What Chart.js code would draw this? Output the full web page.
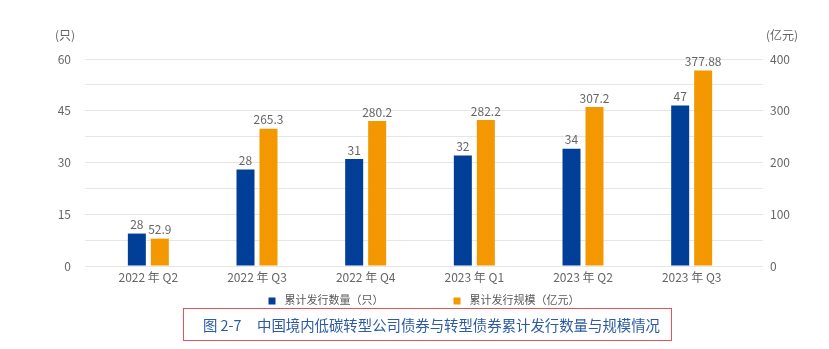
<!DOCTYPE html>
<html>
<head>
<meta charset="utf-8">
<script src="https://cdn.jsdelivr.net/npm/chart.js@4.4.1/dist/chart.umd.min.js"></script>
<style>
  html, body { margin: 0; padding: 0; background: #fff; }
  #wrap { position: relative; width: 829px; height: 349px; overflow: hidden; }
  #caption {
    position: absolute; left: 183px; top: 308px; width: 487px; height: 31px;
    border: 1.5px solid #e9525a; box-sizing: content-box;
    font-family: "Noto Sans CJK SC", sans-serif; font-size: 14.4px; color: #2c5aa5;
    line-height: 31px; white-space: nowrap;
  }
  #caption span.num { display: inline-block; width: 54px; margin-left: 19px; }
</style>
</head>
<body>
<div id="wrap">
  <canvas id="chart" width="829" height="349"></canvas>
  <div id="caption"><span class="num">图 2-7</span>中国境内低碳转型公司债券与转型债券累计发行数量与规模情况</div>
</div>
<script>
const categories = ["2022 年 Q2", "2022 年 Q3", "2022 年 Q4", "2023 年 Q1", "2023 年 Q2", "2023 年 Q3"];
const countValues = [9.4, 28, 31, 32, 34, 46.5]; // bar heights as drawn (只)
const countLabels = ["28", "28", "31", "32", "34", "47"];
const amountValues = [52.9, 265.3, 280.2, 282.2, 307.2, 377.88]; // 亿元
const amountLabels = ["52.9", "265.3", "280.2", "282.2", "307.2", "377.88"];
const seriesNames = ["累计发行数量（只）", "累计发行规模（亿元）"];
const unitLeft = "(只)";
const unitRight = "(亿元)";

const FONT = '"Noto Sans CJK SC", sans-serif';
const GRID = "#e6e6e6";
const TEXT = "#666666";

// value labels above the bars
const barLabels = {
  id: "barLabels",
  afterDatasetsDraw(chart) {
    const ctx = chart.ctx;
    const texts = [countLabels, amountLabels];
    ctx.save();
    ctx.font = "12px " + FONT;
    ctx.fillStyle = TEXT;
    ctx.textAlign = "center";
    ctx.textBaseline = "bottom";
    chart.data.datasets.forEach((ds, i) => {
      chart.getDatasetMeta(i).data.forEach((bar, j) => {
        ctx.fillText(texts[i][j], bar.x, bar.y - 3);
      });
    });
    ctx.restore();
  },
};

// units above the axes + legend under the chart
const extras = {
  id: "extras",
  afterDraw(chart) {
    const ctx = chart.ctx;
    const area = chart.chartArea;
    ctx.save();
    ctx.font = "12px " + FONT;
    ctx.fillStyle = TEXT;
    ctx.textAlign = "center";
    ctx.textBaseline = "middle";
    ctx.fillText(unitLeft, area.left - 29, 35);
    ctx.fillText(unitRight, area.right + 36, 35);

    // legend
    ctx.font = "11px " + FONT;
    ctx.textAlign = "left";
    const box = 7, gapText = 9, gapItem = 70, y = 301;
    const items = chart.data.datasets.map((ds) => ({
      label: ds.label,
      color: ds.backgroundColor,
      w: box + gapText + ctx.measureText(ds.label).width,
    }));
    const total = items.reduce((s, it) => s + it.w, 0) + gapItem * (items.length - 1);
    let x = (area.left + area.right) / 2 + 4 - total / 2;
    items.forEach((it) => {
      ctx.fillStyle = it.color;
      ctx.fillRect(x, y - box / 2, box, box);
      ctx.fillStyle = "#595959";
      ctx.fillText(it.label, x + box + gapText, y - 1);
      x += it.w + gapItem;
    });
    ctx.restore();
  },
};

new Chart(document.getElementById("chart").getContext("2d"), {
  type: "bar",
  data: {
    labels: categories,
    datasets: [
      {
        label: seriesNames[0],
        data: countValues,
        backgroundColor: "#003e97",
        yAxisID: "yLeft",
      },
      {
        label: seriesNames[1],
        data: amountValues,
        backgroundColor: "#f39800",
        yAxisID: "yRight",
      },
    ],
  },
  options: {
    responsive: false,
    animation: false,
    layout: { padding: { top: 59, bottom: 63, left: 0, right: 0 } },
    datasets: { bar: { categoryPercentage: 0.423, barPercentage: 0.783 } },
    plugins: {
      legend: { display: false },
      tooltip: { enabled: false },
    },
    scales: {
      x: {
        grid: { display: false, drawTicks: false },
        border: { display: false },
        ticks: { color: TEXT, font: { family: FONT, size: 12 }, padding: 4, maxRotation: 0 },
        afterFit: (scale) => { scale.height = 20; },
      },
      yLeft: {
        position: "left",
        min: 0,
        max: 60,
        grid: { color: GRID, lineWidth: 1, drawTicks: true, tickLength: 9 },
        border: { display: false },
        ticks: {
          stepSize: 7.5,
          padding: 14,
          color: TEXT,
          font: { family: FONT, size: 12 },
          callback: (v) => (v % 15 === 0 ? v : ""),
        },
        afterFit: (scale) => { scale.width = 94; },
      },
      yRight: {
        position: "right",
        min: 0,
        max: 400,
        grid: { color: GRID, lineWidth: 1, drawOnChartArea: false, drawTicks: true, tickLength: 17 },
        border: { display: false },
        ticks: {
          stepSize: 50,
          padding: 7,
          color: TEXT,
          font: { family: FONT, size: 12 },
          callback: (v) => (v % 100 === 0 ? v : ""),
        },
        afterFit: (scale) => { scale.width = 83; },
      },
    },
  },
  plugins: [barLabels, extras],
});
</script>
</body>
</html>
